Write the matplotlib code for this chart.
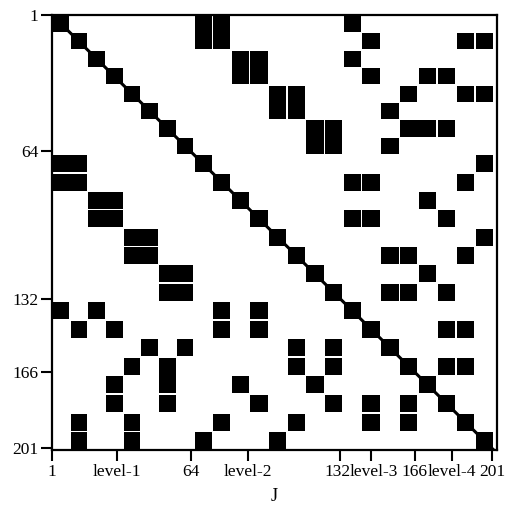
import matplotlib
matplotlib.use("Agg")
import matplotlib.pyplot as plt
import matplotlib.transforms as mtransforms
from matplotlib.patches import Rectangle
import numpy as np

# matrix index where each level starts/ends, and number of diagonal blocks per level
LEVEL_EDGES = [1.2, 65.5, 133.3, 167.4, 202.0]
LEVEL_NBLK = [8, 8, 4, 4]

# non-zero blocks above the diagonal: (block row, block col, n rows, n cols)
# the matrix is symmetric, the lower part is the transpose
UPPER_BLOCKS = [
    (0, 8, 2, 1), (0, 9, 2, 1),
    (2, 10, 2, 1), (2, 11, 2, 1),
    (4, 12, 2, 1), (4, 13, 2, 1),
    (6, 14, 2, 1), (6, 15, 2, 1),
    (0, 16, 1, 1), (1, 17, 1, 1), (2, 16, 1, 1), (3, 17, 1, 1),
    (1, 22, 1, 1), (1, 23, 1, 1),
    (3, 20, 1, 1), (3, 21, 1, 1),
    (4, 19, 1, 1), (4, 22, 1, 1), (4, 23, 1, 1),
    (5, 18, 1, 1),
    (6, 19, 1, 2), (6, 21, 1, 1),
    (7, 18, 1, 1),
    (8, 23, 1, 1),
    (9, 16, 1, 1), (9, 17, 1, 1), (9, 22, 1, 1),
    (10, 20, 1, 1),
    (11, 16, 1, 1), (11, 17, 1, 1), (11, 21, 1, 1),
    (12, 23, 1, 1),
    (13, 18, 1, 1), (13, 19, 1, 1), (13, 22, 1, 1),
    (14, 20, 1, 1),
    (15, 18, 1, 1), (15, 19, 1, 1), (15, 21, 1, 1),
    (17, 21, 1, 1), (17, 22, 1, 1),
    (19, 21, 1, 1), (19, 22, 1, 1),
]

XTICKS = [1, 30.5, 64, 90, 132, 146, 166, 183, 201]
XTICKLABELS = ["1", "level-1", "64", "level-2", "132", "level-3", "166", "level-4", "201"]
YTICKS = [1, 64, 132, 166, 201]
YTICKLABELS = ["1", "64", "132", "166", "201"]

plt.rcParams["font.family"] = ["Liberation Serif", "DejaVu Serif"]

# block edges in matrix index units
edges = [LEVEL_EDGES[0]]
for lo, hi, n in zip(LEVEL_EDGES[:-1], LEVEL_EDGES[1:], LEVEL_NBLK):
    edges.extend(np.linspace(lo, hi, n + 1)[1:])
edges = np.array(edges)
nblk = len(edges) - 1

fig = plt.figure(figsize=(5.05, 5.13), dpi=100)
ax = fig.add_axes([0.103, 0.123, 0.881, 0.848])

inset = 0.3


def add_block(r, c, h, w):
    x0, x1 = edges[c], edges[c + w]
    y0, y1 = edges[r], edges[r + h]
    ax.add_patch(Rectangle((x0 + inset, y0 + inset), x1 - x0 - 2 * inset,
                           y1 - y0 - 2 * inset, facecolor="black",
                           edgecolor="none", zorder=2))


for k in range(nblk):
    add_block(k, k, 1, 1)
for r, c, h, w in UPPER_BLOCKS:
    add_block(r, c, h, w)
    add_block(c, r, w, h)

ax.plot([edges[0], edges[-1]], [edges[0], edges[-1]], color="black",
        linewidth=2.2, zorder=1)

ax.set_xlim(1.2, 203.3)
ax.set_ylim(201.8, 1.2)
ax.set_xticks(XTICKS)
ax.set_xticklabels(XTICKLABELS)
ax.set_yticks(YTICKS)
ax.set_yticklabels(YTICKLABELS)
ax.tick_params(direction="out", length=8, width=1.5, labelsize=12.5, pad=2)
for s in ax.spines.values():
    s.set_linewidth(1.6)
ax.set_xlabel("J", fontsize=13, labelpad=6)

# "132" and "level-3" sit almost on top of each other: nudge them apart a little
labels = ax.get_xticklabels()
for lab, dx in ((labels[4], -3), (labels[5], 3)):
    lab.set_transform(lab.get_transform() +
                      mtransforms.ScaledTranslation(dx / 100, 0, fig.dpi_scale_trans))

fig.savefig("out.png", dpi=100)
